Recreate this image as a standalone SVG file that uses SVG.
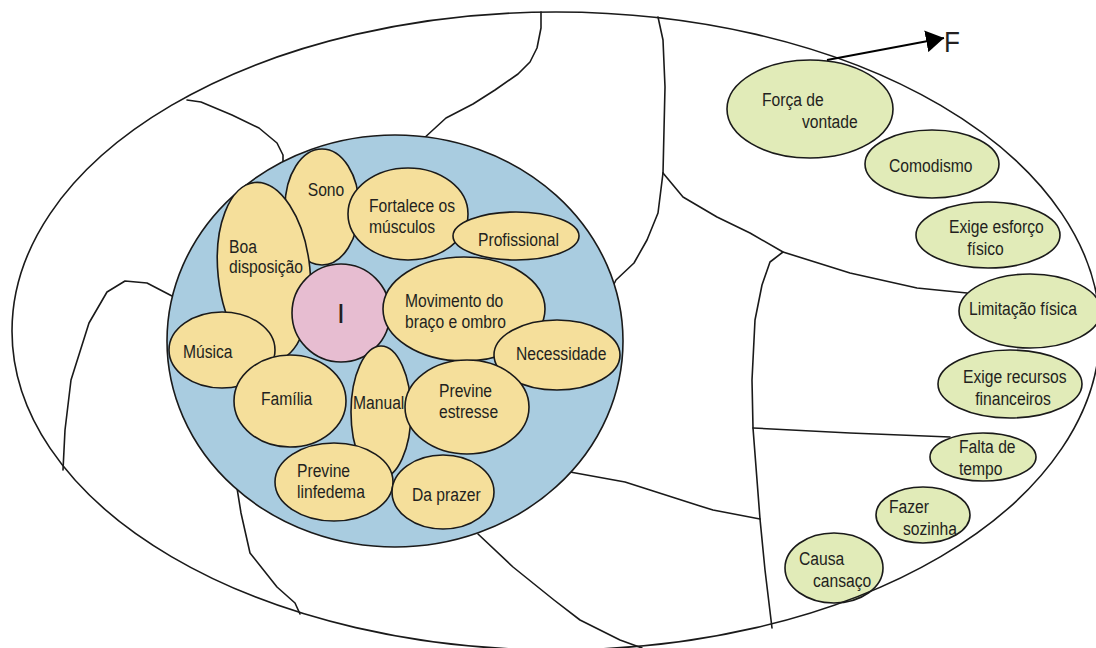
<svg xmlns="http://www.w3.org/2000/svg" width="1096" height="648" viewBox="0 0 1096 648">
<defs>
<style>
.ln{fill:none;stroke:#1a1a1a;stroke-width:1.6;stroke-linejoin:round;stroke-linecap:round}
.y{fill:#F5DF9B;stroke:#1a1a1a;stroke-width:1.6}
.g{fill:#E1EBB8;stroke:#1a1a1a;stroke-width:1.6}
.t{font-family:"Liberation Sans",Arial,sans-serif;font-size:18px;fill:#231F20}
</style>
<marker id="ah" markerUnits="userSpaceOnUse" viewBox="0 0 18 22" refX="18" refY="11" markerWidth="18" markerHeight="22" orient="auto">
<path d="M0,0 L18,11 L0,22 Z" fill="#000"/>
</marker>
</defs>
<rect width="1096" height="648" fill="#fff"/>
<g id="sector-lines">
<polyline class="ln" points="541,12 541,28 537,48 530,62 518,74 495,90 473,104 446,118 422,140"/>
<polyline class="ln" points="187,100 201,102 232,115 259,128 277,143 283,155 283,168"/>
<polyline class="ln" points="658,17 663,40 665,87 664,130 663,173"/>
<polyline class="ln" points="663,173 658,213 647,240 634,263 616,280 610,292"/>
<polyline class="ln" points="663,173 683,197 717,217 750,233 783,252 850,273 917,288 967,293"/>
<polyline class="ln" points="783,252 770,262 762,285 755,320 752,380 753,428 757,480 760,519 765,570 772,628"/>
<polyline class="ln" points="753,428 850,433 950,437"/>
<polyline class="ln" points="570,472 625,482 650,490 700,506 713,510 760,519"/>
<polyline class="ln" points="478,534 513,567 554,600 580,620 620,640 642,648"/>
<polyline class="ln" points="237,488 241,513 250,553 277,587 295,603 300,614"/>
<polyline class="ln" points="172,296 147,283 125,281 107,292 89,323 71,380 65,430 63,470"/>
</g>
<g id="core">
<ellipse cx="395" cy="341" rx="228" ry="206" fill="#A9CCE0" stroke="#1a1a1a" stroke-width="1.6"/>
</g>
<g id="n-sono"><ellipse class="y" cx="322" cy="207" rx="37" ry="58"/><text class="t" text-anchor="middle" transform="translate(326,196) scale(.87,1)">Sono</text></g>
<g id="n-boa"><ellipse class="y" cx="264" cy="272" rx="46" ry="90" transform="rotate(-6 264 272)"/><text class="t" transform="translate(229,253) scale(.87,1)"><tspan x="0" y="0">Boa</tspan><tspan x="0" y="20">disposição</tspan></text></g>
<g id="n-musica"><ellipse class="y" cx="222" cy="350" rx="53" ry="38"/><text class="t" transform="translate(183,358) scale(.87,1)">Música</text></g>
<g id="n-familia"><ellipse class="y" cx="290" cy="401" rx="56" ry="46"/><text class="t" transform="translate(261,405) scale(.87,1)">Família</text></g>
<g id="n-i"><circle cx="341" cy="313" r="49" fill="#E7BDD1" stroke="#1a1a1a" stroke-width="1.6"/><text class="t" text-anchor="middle" style="font-size:28px" transform="translate(341,323)">I</text></g>
<g id="n-fortalece"><ellipse class="y" cx="408" cy="214" rx="60" ry="46"/><text class="t" transform="translate(369,212) scale(.87,1)"><tspan x="0" y="0">Fortalece os</tspan><tspan x="0" y="21">músculos</tspan></text></g>
<g id="n-profissional"><ellipse class="y" cx="516" cy="236" rx="63" ry="24"/><text class="t" transform="translate(478,246) scale(.87,1)">Profissional</text></g>
<g id="n-movimento"><ellipse class="y" cx="464" cy="309" rx="81" ry="52"/><text class="t" transform="translate(405,307) scale(.87,1)"><tspan x="0" y="0">Movimento do</tspan><tspan x="0" y="21">braço e ombro</tspan></text></g>
<g id="n-necessidade"><ellipse class="y" cx="557" cy="355" rx="63" ry="35"/><text class="t" transform="translate(516,360) scale(.87,1)">Necessidade</text></g>
<g id="n-manual"><ellipse class="y" cx="381" cy="412" rx="30" ry="66"/><text class="t" transform="translate(353,409) scale(.87,1)">Manual</text></g>
<g id="n-estresse"><ellipse class="y" cx="467" cy="407" rx="62" ry="47"/><text class="t" transform="translate(439,397) scale(.87,1)"><tspan x="0" y="0">Previne</tspan><tspan x="0" y="21">estresse</tspan></text></g>
<g id="n-linfedema"><ellipse class="y" cx="334" cy="482" rx="59" ry="39"/><text class="t" transform="translate(297,477) scale(.87,1)"><tspan x="0" y="0">Previne</tspan><tspan x="0" y="21">linfedema</tspan></text></g>
<g id="n-prazer"><ellipse class="y" cx="443" cy="492" rx="51" ry="37"/><text class="t" transform="translate(412,501) scale(.87,1)">Da prazer</text></g>
<g id="n-forca"><ellipse class="g" cx="810" cy="109" rx="83" ry="49"/><text class="t" transform="translate(762,106) scale(.87,1)"><tspan x="0" y="0">Força de</tspan><tspan x="46" y="22">vontade</tspan></text></g>
<g id="n-comodismo"><ellipse class="g" cx="932" cy="164" rx="67" ry="34"/><text class="t" transform="translate(889,172) scale(.87,1)">Comodismo</text></g>
<g id="n-esforco"><ellipse class="g" cx="988" cy="235" rx="72" ry="33"/><text class="t" transform="translate(949,233) scale(.87,1)"><tspan x="0" y="0">Exige esforço</tspan><tspan x="21" y="22">físico</tspan></text></g>
<g id="n-limitacao"><ellipse class="g" cx="1030" cy="311" rx="71" ry="37"/><text class="t" transform="translate(969,315) scale(.87,1)">Limitação física</text></g>
<g id="n-recursos"><ellipse class="g" cx="1010" cy="384" rx="72" ry="34"/><text class="t" transform="translate(963,383) scale(.87,1)"><tspan x="0" y="0">Exige recursos</tspan><tspan x="14" y="22">financeiros</tspan></text></g>
<g id="n-tempo"><ellipse class="g" cx="983" cy="457" rx="53" ry="24"/><text class="t" transform="translate(959,453) scale(.87,1)"><tspan x="0" y="0">Falta de</tspan><tspan x="0" y="22">tempo</tspan></text></g>
<g id="n-sozinha"><ellipse class="g" cx="923" cy="515" rx="47" ry="28"/><text class="t" transform="translate(889,513) scale(.87,1)"><tspan x="0" y="0">Fazer</tspan><tspan x="16" y="22">sozinha</tspan></text></g>
<g id="n-cansaco"><ellipse class="g" cx="834" cy="568" rx="49" ry="35"/><text class="t" transform="translate(799,565) scale(.87,1)"><tspan x="0" y="0">Causa</tspan><tspan x="16" y="22">cansaço</tspan></text></g>
<g id="outer-boundary">
<ellipse cx="556" cy="331" rx="544" ry="319" fill="none" stroke="#1a1a1a" stroke-width="1.6"/>
</g>
<g id="connectors">
<line x1="827" y1="60" x2="944" y2="38" stroke="#000" stroke-width="1.8" marker-end="url(#ah)"/>
</g>
<text class="t" style="font-size:30px" transform="translate(944,52) scale(.87,1)">F</text>
</svg>
